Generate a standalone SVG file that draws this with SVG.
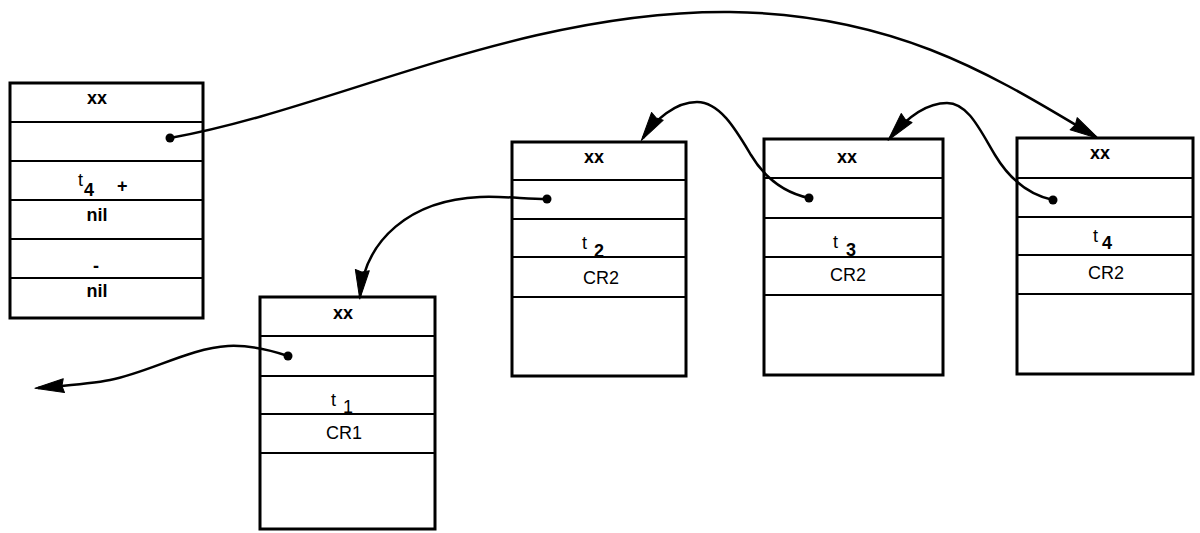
<svg xmlns="http://www.w3.org/2000/svg" width="1200" height="533" viewBox="0 0 1200 533">
<style>
.box{fill:#fff;stroke:#000;stroke-width:3}
.row{stroke:#000;stroke-width:2}
.t{font-family:"Liberation Sans",Arial,sans-serif;font-size:18px;fill:#000;text-anchor:middle}
.b{font-weight:bold}
.ts{font-family:"Liberation Sans",Arial,sans-serif;font-size:18px;fill:#000}
.c{fill:none;stroke:#000;stroke-width:2.5}
.dot{fill:#000}
</style>
<defs>
<marker id="ah" markerUnits="userSpaceOnUse" markerWidth="40" markerHeight="24" viewBox="-34 -12 40 24" refX="0" refY="0" orient="auto">
<path d="M3,0 L-26,-7 L-24,0 L-26,7 Z" fill="#000" stroke="#000" stroke-width="1" stroke-linejoin="round"/>
</marker>
</defs>
<rect width="1200" height="533" fill="#fff"/>

<g id="node-head">
<rect class="box" x="10" y="83" width="193" height="235"/>
<line class="row" x1="10" y1="122" x2="203" y2="122"/>
<line class="row" x1="10" y1="161" x2="203" y2="161"/>
<line class="row" x1="10" y1="200" x2="203" y2="200"/>
<line class="row" x1="10" y1="239" x2="203" y2="239"/>
<line class="row" x1="10" y1="278" x2="203" y2="278"/>
<text class="t b" x="97" y="104">xx</text>
<text class="ts" x="78" y="186">t</text>
<text class="ts b" x="84" y="196">4</text>
<text class="ts b" x="117" y="192">+</text>
<text class="t b" x="97" y="221">nil</text>
<text class="t b" x="96" y="272">-</text>
<text class="t b" x="97" y="297">nil</text>
<circle class="dot" cx="170" cy="138" r="4.5"/>
</g>

<g id="node-1">
<rect class="box" x="260" y="297" width="175" height="232"/>
<line class="row" x1="260" y1="336" x2="435" y2="336"/>
<line class="row" x1="260" y1="376" x2="435" y2="376"/>
<line class="row" x1="260" y1="414" x2="435" y2="414"/>
<line class="row" x1="260" y1="453" x2="435" y2="453"/>
<text class="t b" x="343" y="319">xx</text>
<text class="ts" x="331" y="406">t</text>
<text class="ts" x="343" y="413">1</text>
<text class="t" x="344" y="439">CR1</text>
<circle class="dot" cx="288" cy="356" r="4.5"/>
</g>

<g id="node-2">
<rect class="box" x="512" y="142" width="174" height="234"/>
<line class="row" x1="512" y1="180" x2="686" y2="180"/>
<line class="row" x1="512" y1="219" x2="686" y2="219"/>
<line class="row" x1="512" y1="257" x2="686" y2="257"/>
<line class="row" x1="512" y1="297" x2="686" y2="297"/>
<text class="t b" x="594" y="163">xx</text>
<text class="ts" x="582" y="249">t</text>
<text class="ts b" x="594" y="257">2</text>
<text class="t" x="601" y="284">CR2</text>
<circle class="dot" cx="547" cy="199" r="4.5"/>
</g>

<g id="node-3">
<rect class="box" x="764" y="139" width="179" height="236"/>
<line class="row" x1="764" y1="178" x2="943" y2="178"/>
<line class="row" x1="764" y1="218" x2="943" y2="218"/>
<line class="row" x1="764" y1="257" x2="943" y2="257"/>
<line class="row" x1="764" y1="295" x2="943" y2="295"/>
<text class="t b" x="847" y="163">xx</text>
<text class="ts" x="833" y="248">t</text>
<text class="ts b" x="846" y="256">3</text>
<text class="t" x="848" y="281">CR2</text>
<circle class="dot" cx="809" cy="198" r="4.5"/>
</g>

<g id="node-4">
<rect class="box" x="1017" y="138" width="176" height="236"/>
<line class="row" x1="1017" y1="178" x2="1193" y2="178"/>
<line class="row" x1="1017" y1="217" x2="1193" y2="217"/>
<line class="row" x1="1017" y1="255" x2="1193" y2="255"/>
<line class="row" x1="1017" y1="294" x2="1193" y2="294"/>
<text class="t b" x="1100" y="159">xx</text>
<text class="ts" x="1093" y="242">t</text>
<text class="ts b" x="1102" y="249">4</text>
<text class="t" x="1106" y="279">CR2</text>
<circle class="dot" cx="1053" cy="200" r="4.5"/>
</g>

<g id="connectors">
<path class="c" marker-end="url(#ah)" d="M170,138 C330,110 520,10 730,12 C900,14 1000,80 1096,137"/>
<path class="c" marker-end="url(#ah)" d="M1053,200 C1030,195 1010,180 995,155 C980,130 968,103 947,103 C925,103 905,120 890,138"/>
<path class="c" marker-end="url(#ah)" d="M809,198 C786,193 766,180 751,155 C736,130 720,102 697,102 C675,102 655,120 643,138"/>
<path class="c" marker-end="url(#ah)" d="M547,199 C525,199 505,196 480,197 C410,200 365,240 360,296"/>
<path class="c" marker-end="url(#ah)" d="M288,356 C268,349 250,345 228,346 C190,348 150,372 110,380 C90,384 60,386 38,388"/>
</g>
</svg>
